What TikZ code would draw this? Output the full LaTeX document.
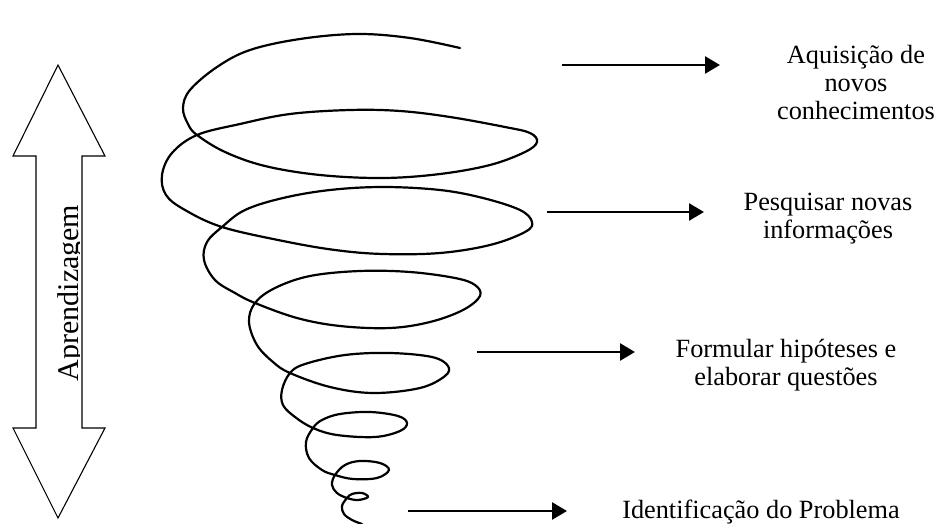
\documentclass[tikz,border=0pt]{standalone}
\usepackage{fontspec}
\setmainfont{Liberation Serif}
\usetikzlibrary{arrows.meta}
\begin{document}
\begin{tikzpicture}[x=1pt,y=-1pt,
  flow/.style={line width=2.6pt,-{Triangle[length=15pt,width=17pt]}},
  spiralline/.style={line width=2.2pt,line cap=round,line join=round},
  lbl/.style={align=center,inner sep=0pt,font=\fontsize{26.3}{28}\selectfont,anchor=base},
  bigarrow/.style={draw,line width=1.1pt,line join=miter,fill=white}]
\useasboundingbox (0,0) rectangle (935,524);

% vertical double arrow with its caption
\draw[bigarrow] (58,65) -- (105,156) -- (82,156) -- (82,428) -- (105,428)
  -- (58,518) -- (13,428) -- (36,428) -- (36,156) -- (13,156) -- cycle;
\begin{scope}
  \clip (37,157) rectangle (79.3,427);
  \node[rotate=90,anchor=base,inner sep=0pt,font=\fontsize{30}{32}\selectfont]
    (apr) at (78.5,293) {Aprendizagem};
\end{scope}

% widening spiral
\draw[spiralline] plot[smooth,tension=0.6] coordinates {
  (460,48) (410,38) (357,34) (300,39) (250,50) (217,67) (190,90) (183,108)
  (188,124) (197,135) (225,152) (265,166) (320,175) (383,178) (440,174)
  (490,165) (525,152) (537,142) (530,133) (505,127) (450,117) (400,111)
  (350,110) (290,114) (240,124) (197,135) (172,153) (162,175) (166,195)
  (185,210) (222,227) (283,241) (335,250) (383,254) (440,253) (490,245)
  (525,232) (532,222) (520,210) (483,198) (440,190) (383,187) (330,190)
  (283,198) (245,210) (222,227) (207,242) (204,260) (215,280) (235,293)
  (255,303) (297,318) (340,326) (390,328) (430,322) (463,310) (480,296)
  (475,285) (455,278) (410,272) (360,271) (310,276) (275,288) (255,303)
  (249,322) (257,345) (273,362) (290,373) (330,387) (373,393) (420,388)
  (445,376) (448,366) (432,357) (390,353) (345,355) (305,364) (290,373)
  (282,390) (283,405) (295,417) (313,428) (337,435) (375,437) (400,431)
  (407,423) (398,416) (370,412) (340,414) (322,420) (313,428) (306,442)
  (309,458) (322,470) (335,475) (353,479) (377,478) (389,470) (380,463)
  (360,461) (345,465) (335,475) (332,485) (337,493) (347,498) (358,500)
  (368,497) (362,493) (352,494) (347,498) (342,506) (344,514) (352,520)
  (362,524)};

% stage labels (anchored on the baseline of their last line)
\node[lbl] (t1) at (856,120) {Aquisição de\\novos\\conhecimentos};
\node[lbl] (t2) at (828,238) {Pesquisar novas\\informações};
\node[lbl] (t3) at (786,385) {Formular hipóteses e\\elaborar questões};
\node[lbl] (t4) at (761,518) {Identificação do Problema};

% pointers from the spiral to the labels
\coordinate (s1) at (562,65);  \coordinate (e1) at (720,65);
\coordinate (s2) at (547,212); \coordinate (e2) at (704,212);
\coordinate (s3) at (477,352); \coordinate (e3) at (635,352);
\coordinate (s4) at (408,511); \coordinate (e4) at (567,511);
\draw[flow] (s1) -- (e1);
\draw[flow] (s2) -- (e2);
\draw[flow] (s3) -- (e3);
\draw[flow] (s4) -- (e4);
\end{tikzpicture}
\end{document}
